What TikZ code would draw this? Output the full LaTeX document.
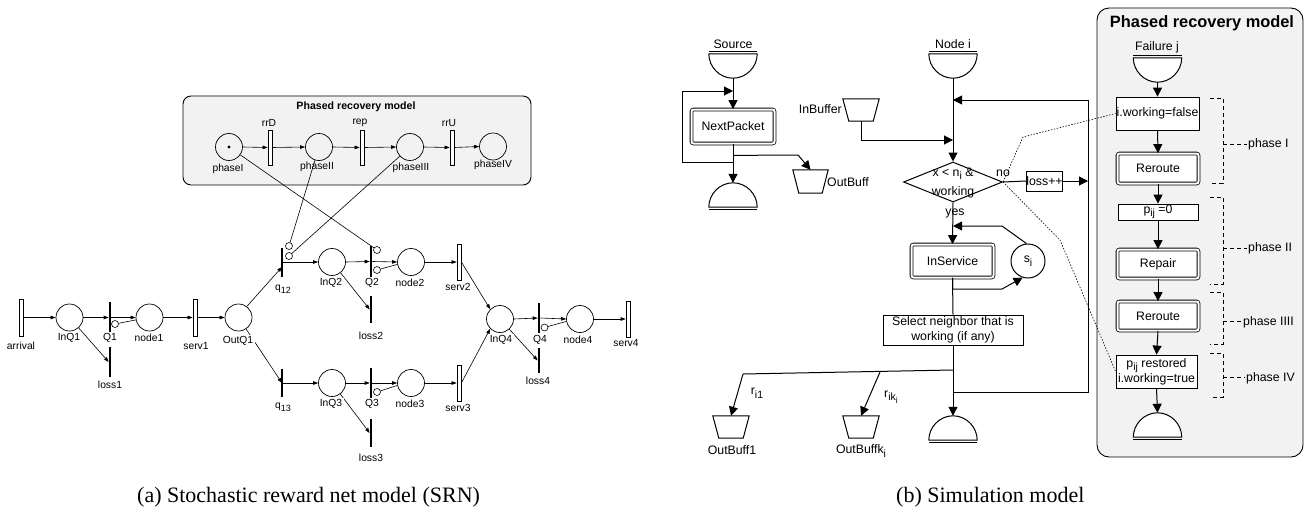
\documentclass[tikz,border=0pt]{standalone}
\usepackage{fontspec}
\setmainfont{Liberation Serif}
\setsansfont{Liberation Sans}
\usetikzlibrary{arrows.meta,shapes.geometric}
% lowered indices for the sans labels
\newcommand{\lsub}[1]{\raisebox{-3pt}{\fontsize{9}{10}\selectfont #1}}
\newcommand{\rsub}[1]{\raisebox{-3.5pt}{\fontsize{10.5}{11}\selectfont #1}}
\newcommand{\rsubsub}[1]{\raisebox{-2.5pt}{\fontsize{8.5}{9}\selectfont #1}}
% flowchart terminals (half discs) and buffers (trapezia) drawn on frame nodes
\newcommand{\domedown}[1]{%
  \draw[outl, fill=white] (#1.north west) -- (#1.north east)
    .. controls +(0pt,-13.25pt) and +(13.25pt,0pt) .. (#1.south)
    .. controls +(-13.25pt,0pt) and +(0pt,-13.25pt) .. (#1.north west) -- cycle;
  \draw[outl] ([yshift=2.5pt]#1.north west) -- ([yshift=2.5pt]#1.north east);}
\newcommand{\domeup}[1]{%
  \draw[outl, fill=white] (#1.south west) -- (#1.south east)
    .. controls +(0pt,13.25pt) and +(13.25pt,0pt) .. (#1.north)
    .. controls +(-13.25pt,0pt) and +(0pt,13.25pt) .. (#1.south west) -- cycle;
  \draw[outl] ([yshift=-2.5pt]#1.south west) -- ([yshift=-2.5pt]#1.south east);}
\newcommand{\trap}[1]{%
  \draw[outl, fill=white] (#1.north west) -- (#1.north east)
    -- ([xshift=-6pt]#1.south east) -- ([xshift=6pt]#1.south west) -- cycle;}
\begin{document}
\begin{tikzpicture}[x=1pt,y=-1pt,
  lab/.style={font=\sffamily\fontsize{10.3}{12}\selectfont, inner sep=1pt},
  labw/.style={lab, fill=white, inner sep=1.5pt},
  place/.style={circle, draw, line width=0.7pt, minimum size=27pt, inner sep=0pt},
  ttr/.style={rectangle, draw, fill=white, line width=0.7pt, minimum width=4pt, minimum height=36pt, inner sep=0pt},
  itr/.style={rectangle, fill=black, minimum width=2.2pt, inner sep=0pt},
  inh/.style={circle, draw, fill=white, line width=0.6pt, minimum size=7pt, inner sep=0pt},
  parc/.style={line width=0.6pt, -{Triangle[length=5pt,width=3.5pt]}},
  pline/.style={line width=0.6pt},
  rtxt/.style={font=\sffamily\fontsize{12.3}{14.5}\selectfont, inner sep=0pt},
  flow/.style={line width=1pt, -{Triangle[length=9pt,width=9pt]}},
  fline/.style={line width=1pt},
  outl/.style={line width=1pt},
  dbox/.style={rtxt, draw, fill=white, double, double distance=2pt, rounded corners=2pt, line width=0.8pt},
  sbox/.style={rtxt, draw, fill=white, line width=0.8pt, align=center},
  frame/.style={rectangle, draw=none, inner sep=0pt},
  dotl/.style={line width=0.6pt, dash pattern=on 1.5pt off 1.5pt},
  brk/.style={line width=0.7pt, dash pattern=on 4pt off 3pt},
  panel/.style={draw, line width=0.9pt, fill=black!5}
]
\useasboundingbox (0,0) rectangle (1308,514);

% ================= (a) stochastic reward net =================
\node[panel, rounded corners=8pt, minimum width=348pt, minimum height=89pt] (lpanel) at (357,140.5) {};
\node[font=\sffamily\bfseries\fontsize{10.6}{12}\selectfont] (lpT) at (356,107) {Phased recovery model};

% recovery phases
\node[place] (phaseI) at (229,147) {};
\fill (phaseI.center) circle[radius=1.6pt];
\node[ttr, minimum height=35pt] (rrD) at (270,147.5) {};
\node[place] (phaseII) at (319,147) {};
\node[ttr, minimum height=35pt] (rep) at (362,147.5) {};
\node[place] (phaseIII) at (410,147) {};
\node[ttr, minimum height=35pt] (rrU) at (452,147.5) {};
\node[place] (phaseIV) at (493,146.5) {};

% node 1
\node[ttr, minimum height=37pt] (arrival) at (21.5,317.5) {};
\node[place] (InQ1) at (69.5,317.5) {};
\node[itr, minimum height=31pt] (Q1) at (110,317.5) {};
\node[inh] (Q1i) at (115,324) {};
\node[place] (node1) at (149.5,317.5) {};
\node[ttr, minimum height=37pt] (serv1) at (195,317.5) {};
\node[place] (OutQ1) at (238.5,317.5) {};
\node[itr, minimum height=30pt] (loss1) at (110,362) {};

% routing
\node[itr, minimum height=29pt] (q12) at (282,262) {};
\node[inh] (q12t) at (289,246) {};
\node[inh] (q12b) at (289,256) {};
\node[itr, minimum height=28pt] (q13) at (282,383) {};

% node 2
\node[place] (InQ2) at (332,262) {};
\node[itr, minimum height=31pt] (Q2) at (371,261.5) {};
\node[inh] (Q2t) at (377,250) {};
\node[inh] (Q2b) at (377,270) {};
\node[place] (node2) at (411,262) {};
\node[ttr, minimum height=36pt] (serv2) at (459,262) {};
\node[itr, minimum height=27pt] (loss2) at (371,309.5) {};

% node 3
\node[place] (InQ3) at (332,383) {};
\node[itr, minimum height=30pt] (Q3) at (371,383) {};
\node[inh] (Q3i) at (377,392) {};
\node[place] (node3) at (411,383) {};
\node[ttr, minimum height=36pt] (serv3) at (459,383) {};
\node[itr, minimum height=28pt] (loss3) at (371,433) {};

% node 4
\node[place] (InQ4) at (500,319) {};
\node[itr, minimum height=30pt] (Q4) at (539,318) {};
\node[inh] (Q4i) at (544.5,327.5) {};
\node[place] (node4) at (580,319) {};
\node[ttr, minimum height=36pt] (serv4) at (628,319) {};
\node[itr, minimum height=25pt] (loss4) at (539,360.5) {};

% arcs
\draw[parc] (phaseI.east) -- (rrD.west);
\draw[parc] (rrD.east) -- (phaseII.west);
\draw[parc] (phaseII.east) -- (rep.west);
\draw[parc] (rep.east) -- (phaseIII.west);
\draw[parc] (phaseIII.east) -- (rrU.west);
\draw[parc] (rrU.east) -- (phaseIV.west);

\draw[parc] (arrival.east) -- (InQ1.west);
\draw[parc] (InQ1.east) -- (Q1.west);
\draw[parc] (Q1.east) -- (node1.west);
\draw[pline] (Q1i) -- (node1.190);
\draw[parc] (InQ1) -- (loss1.west);
\draw[parc] (node1.east) -- (serv1.west);
\draw[parc] (serv1.east) -- (OutQ1.west);
\draw[parc] (OutQ1.53) -- ([yshift=-5pt]q12.center);
\draw[parc] (OutQ1) -- (q13.center);

\draw[parc] (q12.east) -- (InQ2.west);
\draw[parc] (InQ2.east) -- (Q2.west);
\draw[parc] (Q2.east) -- (node2.west);
\draw[pline] (Q2b) -- (node2.190);
\draw[parc] (node2.east) -- (serv2.west);
\draw[parc] (InQ2) -- (loss2.west);
\draw[parc] (serv2.east) -- (InQ4.135);

\draw[parc] (q13.east) -- (InQ3.west);
\draw[parc] (InQ3.east) -- (Q3.west);
\draw[parc] (Q3.east) -- (node3.west);
\draw[pline] (Q3i) -- (node3.190);
\draw[parc] (node3.east) -- (serv3.west);
\draw[parc] (InQ3) -- (loss3.west);

\draw[parc] (InQ4.east) -- (Q4.west);
\draw[parc] (Q4.east) -- (node4.west);
\draw[pline] (Q4i) -- (node4.190);
\draw[parc] (node4.east) -- (serv4.west);
\draw[parc] (InQ4) -- (loss4.west);

% labels
\node[lab] (rrDL) at (269,123) {rrD};
\node[lab] (repL) at (360,123) {rep};
\node[lab] (rrUL) at (449,123) {rrU};
\node[lab] (phaseIL) at (228,169) {phaseI};
\node[lab] (phaseIIL) at (317,167) {phaseII};
\node[lab] (phaseIIIL) at (411,168) {phaseIII};
\node[lab] (phaseIVL) at (493,165) {phaseIV};

\node[labw] (arrivalL) at (21,346) {arrival};
\node[labw] (InQ1L) at (69,338) {InQ1};
\node[labw] (Q1L) at (110,338) {Q1};
\node[labw] (node1L) at (149,338) {node1};
\node[labw] (serv1L) at (196,346) {serv1};
\node[labw] (OutQ1L) at (238,341) {OutQ1};
\node[labw] (loss1L) at (110,385) {loss1};
\node[labw] (q12L) at (283,289) {q\lsub{12}};
\node[labw] (q13L) at (283,407) {q\lsub{13}};
\node[labw] (InQ2L) at (331,283) {InQ2};
\node[labw] (Q2L) at (372,283) {Q2};
\node[labw] (node2L) at (410,283) {node2};
\node[labw] (serv2L) at (458,287) {serv2};
\node[labw] (loss2L) at (371,336) {loss2};
\node[labw] (InQ3L) at (331,404) {InQ3};
\node[labw] (Q3L) at (372,404) {Q3};
\node[labw] (node3L) at (410,404) {node3};
\node[labw] (serv3L) at (458,408) {serv3};
\node[labw] (loss3L) at (371,458) {loss3};
\node[labw] (InQ4L) at (501,340) {InQ4};
\node[labw] (Q4L) at (540,340) {Q4};
\node[labw] (node4L) at (578,340) {node4};
\node[labw] (serv4L) at (626,343) {serv4};
\node[labw] (loss4L) at (538,381) {loss4};

\draw[parc] (serv3.east) -- (InQ4.225);

% recovery phases gate the routing and the queues
\draw[pline] (phaseI) -- (Q2t);
\draw[pline] (phaseII) -- (q12t);
\draw[pline] (phaseIII) -- (q12b);

% ================= (b) simulation model =================
\node[panel, rounded corners=12pt, minimum width=206pt, minimum height=449pt] (rpanel) at (1200,232.5) {};
\node[font=\sffamily\bfseries\fontsize{16.4}{18}\selectfont] (rpT) at (1202,23) {Phased recovery model};

% source
\node[rtxt] (srcT) at (733,44) {Source};
\node[frame, minimum width=48pt, minimum height=24pt] (src) at (733,66) {};
\domedown{src}
\node[dbox, minimum width=83pt, minimum height=34pt] (np) at (733,126.5) {NextPacket};
\node[frame, minimum width=48pt, minimum height=24pt] (srcEnd) at (733,195) {};
\domeup{srcEnd}
\node[frame, minimum width=35pt, minimum height=23pt] (ob) at (810.5,181.5) {};
\trap{ob}
\node[rtxt, anchor=west] (obT) at (827,182) {OutBuff};

% node i
\node[frame, minimum width=36pt, minimum height=22pt] (ib) at (861,110) {};
\trap{ib}
\node[rtxt, anchor=east] (ibT) at (842,109) {InBuffer};
\node[rtxt] (niT) at (953,44) {Node i};
\node[frame, minimum width=48pt, minimum height=24pt] (ni) at (953,66) {};
\domedown{ni}
\node[diamond, draw, line width=1pt, minimum width=99pt, minimum height=40pt, inner sep=0pt] (dia) at (953,182) {};
\node[rtxt, align=center, font=\sffamily\fontsize{12.3}{19}\selectfont] (diaT) at (953,183) {x < n\rsub{i} \&\\working};
\node[rtxt] (noT) at (1003,173) {no};
\node[sbox, minimum width=35pt, minimum height=20pt, inner sep=0pt] (loss) at (1044.5,181) {loss++};
\node[rtxt] (yesT) at (955,213) {yes};
\node[dbox, minimum width=82pt, minimum height=33pt] (insv) at (952.5,261) {InService};
\node[circle, draw, line width=1pt, minimum size=34pt, rtxt] (si) at (1028,261) {s\rsub{i}};
\node[sbox, minimum width=140pt, minimum height=30pt, font=\sffamily\fontsize{12.3}{15}\selectfont] (sel) at (953,330) {Select neighbor that is\\working (if any)};
\node[frame, minimum width=48pt, minimum height=24pt] (niEnd) at (953,428) {};
\domeup{niEnd}
\node[frame, minimum width=36pt, minimum height=22pt] (ob1) at (731,427) {};
\trap{ob1}
\node[rtxt] (ob1T) at (732,450) {OutBuff1};
\node[frame, minimum width=36pt, minimum height=22pt] (obk) at (861,427) {};
\trap{obk}
\node[rtxt] (obkT) at (861,451) {OutBuffk\rsub{i}};
\node[rtxt] (r1T) at (757,393) {r\rsub{i1}};
\node[rtxt] (rkT) at (891,397) {r\rsub{ik\rsubsub{i}}};

% failure j
\node[rtxt] (fjT) at (1157,47) {Failure j};
\node[frame, minimum width=48pt, minimum height=24pt] (fj) at (1157.5,70) {};
\domedown{fj}
\node[sbox, minimum width=83pt, minimum height=33pt, inner sep=0pt] (iwf) at (1157.5,113.5) {i.working=false};
\node[dbox, minimum width=81pt, minimum height=30pt] (rr1) at (1158,168.5) {Reroute};
\node[sbox, minimum width=80pt, minimum height=16pt, inner sep=0pt] (pz) at (1158,212) {p\rsub{ij} =0};
\node[dbox, minimum width=81pt, minimum height=29pt] (rp) at (1158,264) {Repair};
\node[dbox, minimum width=81pt, minimum height=29pt] (rr2) at (1158,316) {Reroute};
\node[sbox, minimum width=81pt, minimum height=33pt, inner sep=0pt, font=\sffamily\fontsize{12.3}{15}\selectfont] (pr) at (1156.5,371.5) {p\rsub{ij} restored\\i.working=true};
\node[frame, minimum width=48pt, minimum height=24pt] (fjEnd) at (1157.5,425) {};
\domeup{fjEnd}

% source flow
\draw[flow] (src.south) -- (np.north);
\coordinate (npL) at (682,162);
\coordinate (npJ) at (733,91);
\draw[flow] (np.south) |- (npL) |- (npJ);
\draw[flow] (np.south) -- (srcEnd.north);
\coordinate (obK) at (798,155);
\draw[flow] ([yshift=-11.5pt]np.south) -- (obK) -- (ob.north);

% node i flow
\draw[flow] (ni.south) -- (dia.north);
\coordinate (ibJ) at (953,140);
\draw[flow] (ib.south) |- (ibJ);
\draw[flow] (dia.south) -- (insv.north);
\draw[fline] (dia.east) -- (loss.west);
\coordinate (rvTop) at (1088,100);
\coordinate (rvBot) at (1088,392);
\coordinate (nTop) at (953,100);
\coordinate (jn) at (953,392);
\draw[flow] (loss.east) -- (loss.east -| rvTop);
\draw[flow] (jn) -- (rvBot) -- (rvTop) -- (nTop);
\coordinate (sA) at (1002,289);
\draw[flow] (insv.south) |- (sA) -- (si.252);
\coordinate (sB) at (1002,226);
\coordinate (sC) at (953,226);
\draw[flow] (si.95) -- (sB) -- (sC);
\draw[fline] (insv.south) -- (sel.north);
\draw[flow] (sel.south) -- (niEnd.north);
\coordinate (brA) at (953,370);
\coordinate (brB) at (743,374);
\coordinate (brK) at (880,372);
\draw[fline] (brA) -- (brB);
\draw[flow] (brB) -- (ob1.north);
\draw[flow] (brK) -- (obk.north);

% recovery flow
\draw[flow] (fj.south) -- (iwf.north);
\draw[flow] (iwf.south) -- (rr1.north);
\draw[flow] (rr1.south) -- (pz.north);
\draw[flow] (pz.south) -- (rp.north);
\draw[flow] (rp.south) -- (rr2.north);
\draw[flow] (rr2.south) -- (pr.north);
\draw[flow] (pr.south) -- (fjEnd.north);

% the node state is read from the recovery model
\coordinate (dA) at (1023,137);
\coordinate (dB) at (1060,240);
\draw[dotl] (dia.east) -- (dA) -- (iwf.west);
\draw[dotl] (dia.east) -- (dB) -- (pr.west);

% phase brackets
\draw[brk] (1210,98) -- (1223,98) -- (1223,183) -- (1210,183);
\draw[brk] (1223,144) -- (1247,144);
\node[rtxt, anchor=west] (ph1) at (1248,144) {phase I};
\draw[brk] (1210,197) -- (1223,197) -- (1223,284) -- (1210,284);
\draw[brk] (1223,248) -- (1247,248);
\node[rtxt, anchor=west] (ph2) at (1248,248) {phase II};
\draw[brk] (1210,292) -- (1223,292) -- (1223,344) -- (1210,344);
\draw[brk] (1223,321) -- (1242,321);
\node[rtxt, anchor=west] (ph3) at (1243,322) {phase IIII};
\draw[brk] (1210,353) -- (1223,353) -- (1223,397) -- (1210,397);
\draw[brk] (1223,377) -- (1245,377);
\node[rtxt, anchor=west] (ph4) at (1246,378) {phase IV};

% captions
\node[font=\fontsize{22}{26}\selectfont, anchor=base west, inner sep=0pt] (capa) at (137,502) {(a) Stochastic reward net model (SRN)};
\node[font=\fontsize{22}{26}\selectfont, anchor=base west, inner sep=0pt] (capb) at (896,502) {(b) Simulation model};
\end{tikzpicture}
\end{document}
